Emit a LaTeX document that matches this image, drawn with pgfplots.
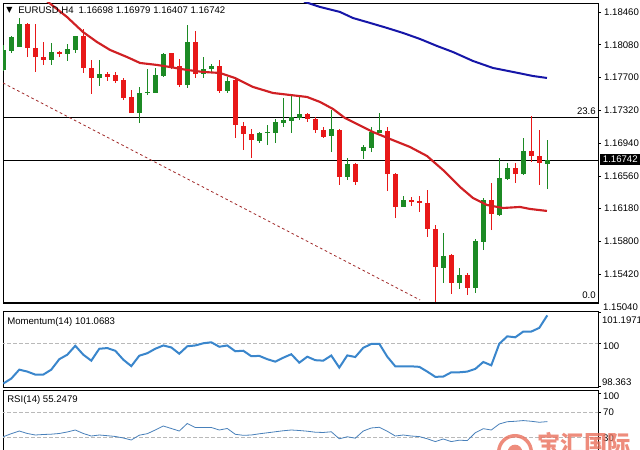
\documentclass[border=0pt]{standalone}
\usepackage{pgfplots}
\pgfplotsset{compat=1.18}
\usepackage{pgfplotstable}
\usepackage{fontspec}
\setmainfont{Liberation Sans}
\newfontfamily\symfont{DejaVu Sans}
\newfontfamily\cjk{Noto Sans CJK SC}
\definecolor{bullc}{RGB}{28,138,36}
\definecolor{bearc}{RGB}{232,24,24}
\definecolor{maRed}{RGB}{208,32,36}
\definecolor{maBlue}{RGB}{22,22,168}
\definecolor{momc}{RGB}{58,134,204}
\definecolor{rsic}{RGB}{72,128,186}
\definecolor{lvl}{RGB}{185,185,185}
\definecolor{trend}{RGB}{160,40,40}
\definecolor{wm}{RGB}{234,112,92}

\pgfplotstableread{
i O H L C
0 1.17788 1.18077 1.17776 1.18020
1 1.18008 1.18182 1.17985 1.18170
2 1.18054 1.18390 1.18054 1.18321
6 1.17904 1.18101 1.17846 1.17996
8 1.17973 1.18089 1.17892 1.18031
9 1.18020 1.18182 1.17985 1.18182
12 1.17695 1.17904 1.17602 1.17741
17 1.17289 1.17591 1.17173 1.17521
18 1.17521 1.17799 1.17498 1.17533
19 1.17521 1.17811 1.17521 1.17730
20 1.17718 1.17985 1.17707 1.17973
23 1.17614 1.18309 1.17579 1.18112
25 1.17741 1.17938 1.17695 1.17799
26 1.17799 1.17857 1.17765 1.17834
28 1.17544 1.17707 1.17521 1.17660
32 1.16965 1.17069 1.16942 1.17058
33 1.17058 1.17150 1.16918 1.17069
34 1.17058 1.17220 1.16942 1.17185
35 1.17173 1.17463 1.17127 1.17208
36 1.17197 1.17498 1.17058 1.17243
37 1.17231 1.17475 1.17208 1.17278
41 1.17023 1.17324 1.16837 1.17104
43 1.16548 1.16768 1.16513 1.16698
45 1.16849 1.16918 1.16756 1.16895
46 1.16884 1.17127 1.16837 1.17069
47 1.17058 1.17289 1.17058 1.17092
50 1.16200 1.16327 1.16200 1.16281
55 1.15493 1.15899 1.15319 1.15632
57 1.15319 1.15493 1.15250 1.15412
59 1.15261 1.15829 1.15203 1.15806
60 1.15794 1.16304 1.15702 1.16281
62 1.16107 1.16768 1.16096 1.16536
63 1.16525 1.16710 1.16513 1.16652
65 1.16582 1.17000 1.16571 1.16849
68 1.16698 1.16979 1.16407 1.16742
}\bull

\pgfplotstableread{
i O H L C
3 1.18321 1.18332 1.17938 1.18043
4 1.18043 1.18321 1.17765 1.17938
5 1.17938 1.18112 1.17846 1.17904
7 1.17996 1.18008 1.17938 1.17973
10 1.18182 1.18263 1.17753 1.17811
11 1.17811 1.17904 1.17510 1.17695
13 1.17741 1.17765 1.17660 1.17707
14 1.17730 1.17765 1.17637 1.17660
15 1.17672 1.17695 1.17440 1.17463
16 1.17475 1.17556 1.17289 1.17289
21 1.17985 1.17985 1.17799 1.17811
22 1.17834 1.17915 1.17591 1.17614
24 1.18112 1.18240 1.17695 1.17741
27 1.17834 1.17904 1.17521 1.17544
29 1.17672 1.17690 1.17000 1.17150
30 1.17139 1.17185 1.16861 1.17046
31 1.17046 1.17104 1.16768 1.16976
38 1.17278 1.17289 1.17185 1.17220
39 1.17220 1.17243 1.17058 1.17092
40 1.17092 1.17127 1.17000 1.17011
42 1.17092 1.17104 1.16455 1.16548
44 1.16698 1.16710 1.16455 1.16490
48 1.17081 1.17127 1.16385 1.16582
49 1.16582 1.16590 1.16072 1.16200
51 1.16281 1.16316 1.16212 1.16258
52 1.16270 1.16327 1.16142 1.16246
53 1.16246 1.16397 1.15852 1.15945
54 1.15945 1.15991 1.15099 1.15505
56 1.15644 1.15655 1.15192 1.15319
58 1.15412 1.15435 1.15180 1.15261
61 1.16281 1.16478 1.15933 1.16119
64 1.16652 1.16710 1.16478 1.16582
66 1.16849 1.17255 1.16721 1.16791
67 1.16791 1.17092 1.16455 1.16710
}\bear

\pgfplotstableread{
x y
4.50 1.18660
5.59 1.18576
7.96 1.18402
9.96 1.18228
11.71 1.18112
13.34 1.18020
15.46 1.17938
17.09 1.17869
19.21 1.17846
20.84 1.17822
22.96 1.17788
24.96 1.17765
27.09 1.17753
28.96 1.17695
31.21 1.17591
33.71 1.17521
35.84 1.17498
37.96 1.17475
39.59 1.17417
41.21 1.17336
42.71 1.17231
44.96 1.17127
46.21 1.17069
48.34 1.16988
50.84 1.16895
52.96 1.16791
54.96 1.16629
57.09 1.16432
58.71 1.16304
60.46 1.16223
62.46 1.16188
64.59 1.16200
65.84 1.16177
67.96 1.16154
}\mared

\pgfplotstableread{
x y
36.50 1.18660
37.71 1.18576
39.59 1.18518
42.09 1.18460
43.71 1.18390
45.84 1.18333
47.96 1.18275
49.96 1.18217
52.09 1.18147
54.21 1.18066
56.21 1.17996
58.71 1.17892
61.21 1.17811
63.71 1.17765
66.21 1.17718
67.96 1.17695
}\mablue

\pgfplotstableread{
i m r
0 98.476 31.4
1 98.665 36.2
2 99.005 40.4
3 98.930 36.5
4 98.816 34.1
5 98.816 34.9
6 99.005 35.4
7 99.402 36.5
8 99.572 38.9
9 99.912 42.0
10 99.572 36.5
11 99.346 32.5
12 99.799 34.1
13 99.825 33.0
14 99.723 31.8
15 99.383 29.4
16 99.138 26.2
17 99.534 33.8
18 99.629 36.2
19 99.799 42.0
20 99.924 48.3
21 99.848 44.4
22 99.610 40.4
23 99.893 52.3
24 99.924 46.0
25 100.007 46.0
26 100.045 46.0
27 99.875 42.0
28 99.924 44.4
29 99.704 35.2
30 99.723 33.6
31 99.516 34.1
32 99.527 36.0
33 99.402 37.6
34 99.308 39.2
35 99.459 40.8
36 99.591 42.0
37 99.270 41.2
38 99.497 40.1
39 99.364 38.5
40 99.346 38.1
41 99.542 39.2
42 99.081 28.1
43 99.546 31.3
44 99.485 29.1
45 99.837 40.4
46 99.980 45.2
47 99.988 46.3
48 99.497 40.0
49 99.130 32.5
50 99.130 34.1
51 99.130 32.5
52 99.111 31.6
53 98.930 28.1
54 98.730 23.7
55 98.741 27.8
56 98.903 23.7
57 98.903 25.9
58 98.930 25.3
59 99.032 37.6
60 99.296 44.1
61 99.168 42.0
62 99.988 51.5
63 100.271 55.1
64 100.234 55.8
65 100.453 56.9
66 100.453 55.8
67 100.593 54.2
68 101.0683 55.2479
}\ind

\pgfplotsset{
  mtaxis/.style={
    scale only axis, width=446.25pt,
    xmin=-0.0375, xmax=74.34, xtick=\empty,
    axis line style={line width=0.6pt},
    ytick pos=right, yticklabel pos=right,
    tick align=outside, major tick length=2.25pt,
    tick style={black, line width=0.5pt},
    clip mode=individual,
    /pgf/number format/assume math mode=true,
    tick label style={font=\fontsize{7.2}{8.6}\selectfont},
  },
}
\tikzset{lbl/.style={inner sep=0pt, font=\fontsize{7.2}{8.6}\selectfont}}

\begin{document}
\begin{tikzpicture}
\useasboundingbox (0,0) rectangle (480pt,337.5pt);
\fill[white] (0,0) rectangle (480pt,337.5pt);
\clip (0,0) rectangle (480pt,337.5pt);

% ---------- main price panel ----------
\begin{axis}[mtaxis, at={(2.25pt,335.25pt)}, anchor=north west, height=225pt,
  ymin=1.15087, ymax=1.18564,
  ytick={1.1542,1.158,1.1618,1.1656,1.1694,1.1732,1.177,1.1808,1.1846},
  yticklabel style={inner sep=0pt, xshift=2.2pt, /pgf/number format/.cd, fixed, fixed zerofill, precision=5},
]
% levels
\addplot[black, line width=0.6pt, forget plot] coordinates {(-1,1.17239) (80,1.17239)};
\addplot[black, line width=0.6pt, forget plot] coordinates {(-1,1.16742) (80,1.16742)};
\addplot[black, line width=0.6pt, forget plot] coordinates {(-1,1.15099) (80,1.15099)};
% fibonacci trend line
\addplot[trend, line width=0.6pt, dash pattern=on 2pt off 2pt, forget plot] coordinates {(-0.04,1.17637) (52.1,1.15122)};
% wicks
\addplot[draw=none, mark=none, forget plot, error bars/.cd, y dir=plus, y explicit, error mark=none,
  error bar style={draw=bullc, solid, line width=0.75pt}]
  table[x=i, y=L, y error plus expr=\thisrow{H}-\thisrow{L}]{\bull};
\addplot[draw=none, mark=none, forget plot, error bars/.cd, y dir=plus, y explicit, error mark=none,
  error bar style={draw=bearc, solid, line width=0.75pt}]
  table[x=i, y=L, y error plus expr=\thisrow{H}-\thisrow{L}]{\bear};
% bodies
\addplot[draw=none, mark=none, forget plot, error bars/.cd, y dir=plus, y explicit, error mark=none,
  error bar style={draw=bullc, solid, line width=3.7pt}]
  table[x=i, y=O, y error plus expr=\thisrow{C}-\thisrow{O}]{\bull};
\addplot[draw=none, mark=none, forget plot, error bars/.cd, y dir=plus, y explicit, error mark=none,
  error bar style={draw=bearc, solid, line width=3.7pt}]
  table[x=i, y=C, y error plus expr=\thisrow{O}-\thisrow{C}]{\bear};
% moving averages
\addplot[maRed, line width=1.6pt, mark=none, forget plot] table[x=x, y=y]{\mared};
\addplot[maBlue, line width=1.5pt, mark=none, forget plot] table[x=x, y=y]{\mablue};
\end{axis}

% ---------- momentum panel ----------
\begin{axis}[mtaxis, at={(2.25pt,103.875pt)}, anchor=north west, height=57.0pt,
  ymin=98.3252, ymax=101.2160,
  ytick={98.363,100,101.1971}, yticklabels={,,},
]
\addplot[lvl, line width=0.5pt, dash pattern=on 2.5pt off 2pt, forget plot] coordinates {(-1,100) (80,100)};
\addplot[momc, line width=1.5pt, mark=none] table[x=i, y=m]{\ind};
\end{axis}

% ---------- RSI panel ----------
\begin{axis}[mtaxis, at={(2.25pt,45pt)}, anchor=north west, height=52.5pt,
  ymin=-5.39, ymax=105.2,
  ytick={30,70,100}, yticklabels={,,},
]
\addplot[lvl, line width=0.5pt, dash pattern=on 2.5pt off 2pt, forget plot] coordinates {(-1,70) (80,70)};
\addplot[lvl, line width=0.5pt, dash pattern=on 2.5pt off 2pt, forget plot] coordinates {(-1,30) (80,30)};
\addplot[rsic, line width=0.6pt, mark=none] table[x=i, y=r]{\ind};
\end{axis}

% ---------- texts ----------
\node[anchor=west, inner sep=0pt] at (4.6pt,329.4pt) {\fontsize{6}{7}\selectfont\symfont ▼};
\node[lbl, anchor=west] at (13.5pt,329.25pt) {EURUSD,H4\hspace{0.5em}1.16698 1.16979 1.16407 1.16742};
\node[lbl, anchor=west] at (5.25pt,96pt) {Momentum(14) 101.0683};
\node[lbl, anchor=west] at (5.25pt,37.5pt) {RSI(14) 55.2479};

\node[lbl, anchor=base east] at (447pt,251.3pt) {23.6};
\node[lbl, anchor=base east] at (447pt,113.6pt) {0.0};

\node[lbl, anchor=west] at (452.2pt,107.25pt) {1.15040};
\node[lbl, anchor=west, fill=black, text=white, inner xsep=2.4pt, inner ysep=1.6pt] at (449.6pt,217.9pt) {1.16742};

\node[lbl, anchor=west] at (451.3pt,97.5pt) {101.1971};
\node[lbl, anchor=west] at (452.2pt,78.2pt) {100};
\node[lbl, anchor=west] at (451.3pt,51.2pt) {98.363};

\node[lbl, anchor=west] at (452.2pt,40pt) {100};
\node[lbl, anchor=west] at (452.2pt,28.3pt) {70};
\node[lbl, anchor=west] at (452.2pt,9.2pt) {30};

% watermark
\begin{scope}[opacity=0.8]
\draw[wm, line width=2.6pt] (386.25pt,-1.5pt) circle (12.2pt);
\fill[wm] (386.25pt,-1.5pt) circle (5.5pt);
\node[anchor=base west, inner sep=0pt, text=wm] at (403pt,-2pt) {\fontsize{17.4}{18}\selectfont\cjk\bfseries 宝汇国际};
\end{scope}
\end{tikzpicture}
\end{document}
